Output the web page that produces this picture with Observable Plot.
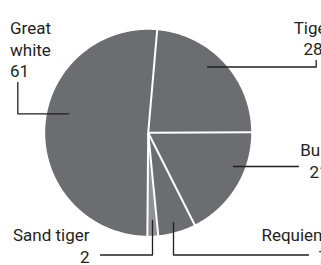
<!DOCTYPE html>
<html><head><meta charset="utf-8">
<script src="https://cdn.jsdelivr.net/npm/d3@7"></script>
<script src="https://cdn.jsdelivr.net/npm/@observablehq/plot@0.6"></script>
<style>html,body{margin:0;padding:0;background:#fff;}</style>
</head><body><div id="chart"></div>
<script>
// Data
const species = ["Tiger", "Bull", "Requiem", "Sand tiger", "Great white"];
const attacks = [28, 21, 7, 2, 61];
const labelNames = ["Tiger", "Bull", "Requiem", "Sand tiger", "Great\nwhite"];

// Styling
const sliceColors = ["#6c6d71", "#6c6d71", "#6c6d71", "#909194", "#6c6d71"];
const ink = "#231f20";

// Layout (pixel space)
const W = 321, H = 265;
const cx = 147.7, cy = 132.3, R = 103;
const startDeg = 5;

// Label layout: anchor point (cap top of first line) and leader polyline
const labelLayout = {
  "Tiger":       {x: 312.5, y: 18.5, anchor: "middle", leader: [[207, 66.5], [315.7, 66.5], [315.7, 60]]},
  "Bull":        {x: 328,   y: 141,  anchor: "end",    leader: [[233, 166], [298, 166]]},
  "Requiem":     {x: 327.5, y: 226,  anchor: "end",    leader: [[173, 222], [173, 254.5], [308, 254.5]]},
  "Sand tiger":  {x: 89,    y: 226,  anchor: "end",    leader: [[152, 220], [152, 254.5], [100, 254.5]]},
  "Great white": {x: 9.5,   y: 19,   anchor: "start",  leader: [[68, 113.3], [17.3, 113.3], [17.3, 82]]}
};

const start = startDeg * Math.PI / 180;
const arcs = d3.pie().sort(null).startAngle(start).endAngle(start + 2 * Math.PI)(attacks);
const pt = (a, r = R) => ({x: cx + r * Math.sin(a), y: cy - r * Math.cos(a)});

const sliceMarks = arcs.map((a, i) => {
  const n = Math.max(2, Math.ceil((a.endAngle - a.startAngle) / (Math.PI / 360)));
  const pts = [pt(0, 0)];
  for (let k = 0; k <= n; k++) pts.push(pt(a.startAngle + (a.endAngle - a.startAngle) * k / n));
  pts.push(pt(0, 0));
  return Plot.line(pts, {x: "x", y: "y", fill: sliceColors[i], stroke: null, curve: "linear"});
});

const separators = arcs.map(a => {
  const c = pt(0, 0), e = pt(a.startAngle, R + 2);
  return {x1: c.x, y1: c.y, x2: e.x, y2: e.y};
});

const leaderPts = species.flatMap(s => labelLayout[s].leader.map(([x, y]) => ({x, y, s})));

const labels = species.map((s, i) => ({
  x: labelLayout[s].x, y: labelLayout[s].y, anchor: labelLayout[s].anchor,
  text: `${labelNames[i]}\n${attacks[i]}`
}));

const textMarks = ["start", "middle", "end"].map(anc =>
  Plot.text(labels.filter(d => d.anchor === anc), {
    x: "x", y: "y", text: "text", textAnchor: anc, lineAnchor: "top",
    lineHeight: 1.24, fontSize: 17, fontFamily: "Roboto", fill: ink
  })
);

const chart = Plot.plot({
  width: W, height: H,
  margin: 0, marginTop: 0, marginRight: 0, marginBottom: 0, marginLeft: 0,
  x: {domain: [0, W], range: [0, W], axis: null},
  y: {domain: [0, H], range: [0, H], axis: null},
  style: {background: "#fff", fontFamily: "Roboto"},
  marks: [
    ...sliceMarks,
    Plot.link(separators, {x1: "x1", y1: "y1", x2: "x2", y2: "y2", stroke: "#fff", strokeWidth: 2}),
    Plot.line(leaderPts, {x: "x", y: "y", z: "s", stroke: ink, strokeWidth: 1.3, curve: "linear"}),
    ...textMarks
  ]
});
document.getElementById("chart").appendChild(chart);
</script>
</body></html>
